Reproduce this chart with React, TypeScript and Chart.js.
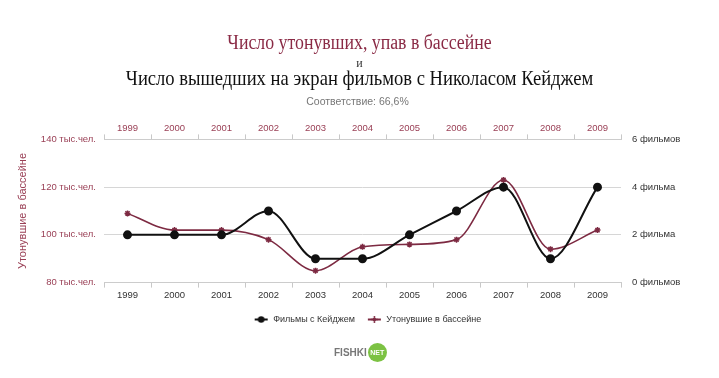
import React, { useEffect, useRef } from "react";
import { Chart, registerables } from "chart.js";

Chart.register(...registerables);

const years = ["1999", "2000", "2001", "2002", "2003", "2004", "2005", "2006", "2007", "2008", "2009"];
const cageFilms = [2, 2, 2, 3, 1, 1, 2, 3, 4, 1, 4];
const poolDrownings = [109, 102, 102, 98, 85, 95, 96, 98, 123, 94, 102];
const leftTickLabels: Record<number, string> = { 80: "80 тыс.чел.", 100: "100 тыс.чел.", 120: "120 тыс.чел.", 140: "140 тыс.чел." };
const rightTickLabels: Record<number, string> = { 0: "0 фильмов", 2: "2 фильма", 4: "4 фильма", 6: "6 фильмов" };
const seriesNames = ["Фильмы с Кейджем", "Утонувшие в бассейне"];

const MAROON = "#8a2a45";
const MAROON_TXT = "#9a4056";
const LINE_RED = "#7d2a42";

function legendIcon(color: string, style: "circle" | "star") {
  const c = document.createElement("canvas");
  c.width = 15;
  c.height = 9;
  const ctx = c.getContext("2d")!;
  ctx.strokeStyle = color;
  ctx.fillStyle = color;
  ctx.lineWidth = 2;
  ctx.beginPath();
  ctx.moveTo(1, 4.5);
  ctx.lineTo(14, 4.5);
  ctx.stroke();
  if (style === "circle") {
    ctx.beginPath();
    ctx.arc(7.5, 4.5, 3.3, 0, Math.PI * 2);
    ctx.fill();
  } else {
    ctx.lineWidth = 1.5;
    ctx.beginPath();
    ctx.moveTo(7.5, 1);
    ctx.lineTo(7.5, 8);
    ctx.moveTo(4, 4.5);
    ctx.lineTo(11, 4.5);
    ctx.stroke();
    ctx.beginPath();
    ctx.arc(7.5, 4.5, 1.8, 0, Math.PI * 2);
    ctx.fill();
  }
  return c;
}

export default function App() {
  const ref = useRef<HTMLCanvasElement>(null);

  useEffect(() => {
    document.body.style.margin = "0";
    const icons = [legendIcon("#111", "circle"), legendIcon(LINE_RED, "star")];
    const tickFont = { family: "'Liberation Sans', Arial, sans-serif", size: 9.5 };
    const chart = new Chart(ref.current!, {
      type: "line",
      data: {
        labels: years,
        datasets: [
          {
            label: seriesNames[0],
            data: cageFilms,
            yAxisID: "y1",
            xAxisID: "x",
            borderColor: "#111",
            backgroundColor: "#111",
            borderWidth: 2,
            pointRadius: 3.5,
            pointStyle: "circle",
            cubicInterpolationMode: "monotone",
            order: 1,
          },
          {
            label: seriesNames[1],
            data: poolDrownings,
            yAxisID: "y",
            xAxisID: "x",
            borderColor: LINE_RED,
            backgroundColor: LINE_RED,
            borderWidth: 1.6,
            pointRadius: 3,
            pointStyle: "star",
            pointBorderWidth: 1.5,
            cubicInterpolationMode: "monotone",
            order: 2,
          },
        ],
      },
      options: {
        animation: false,
        responsive: false,
        maintainAspectRatio: false,
        layout: { padding: { top: 123, left: 16, right: 0, bottom: 44 } },
        plugins: {
          tooltip: { enabled: false },
          title: { display: false },
          legend: {
            position: "bottom",
            labels: {
              usePointStyle: true,
              pointStyleWidth: 15,
              boxHeight: 9,
              padding: 12,
              color: "#333",
              font: { family: "'Liberation Sans', Arial, sans-serif", size: 9 },
              generateLabels: (ch: any) =>
                ch.data.datasets.map((ds: any, i: number) => ({
                  text: ds.label,
                  fillStyle: ds.borderColor,
                  strokeStyle: ds.borderColor,
                  lineWidth: 0,
                  pointStyle: icons[i],
                  hidden: false,
                  datasetIndex: i,
                  fontColor: "#333",
                })),
            },
          },
        },
        scales: {
          x: {
            type: "category",
            position: "bottom",
            offset: true,
            grid: { display: true, drawOnChartArea: false, drawTicks: true, tickLength: 5, color: "#c8c8c8", offset: true },
            border: { display: true, color: "#cccccc" },
            ticks: { color: "#333", font: tickFont, padding: 2 },
          },
          x2: {
            type: "category",
            position: "top",
            labels: years,
            offset: true,
            grid: { display: true, drawOnChartArea: false, drawTicks: true, tickLength: 5, color: "#c8c8c8", offset: true },
            border: { display: true, color: "#cccccc" },
            ticks: { color: MAROON_TXT, font: tickFont, padding: 0 },
          },
          y: {
            position: "left",
            min: 80,
            max: 140,
            grid: { color: "#d6d6d6", drawTicks: false },
            border: { display: false },
            ticks: {
              stepSize: 20,
              color: MAROON_TXT,
              font: tickFont,
              padding: 8,
              callback: (v: any) => leftTickLabels[v as number] ?? "",
            },
            title: {
              display: true,
              text: "Утонувшие в бассейне",
              color: MAROON_TXT,
              font: { family: "'Liberation Sans', Arial, sans-serif", size: 11 },
              padding: { top: 0, bottom: 8 },
            },
            afterFit: (s: any) => {
              s.width = 88;
            },
          },
          y1: {
            position: "right",
            min: 0,
            max: 6,
            grid: { drawOnChartArea: false, drawTicks: false },
            border: { display: false },
            ticks: {
              stepSize: 2,
              color: "#333",
              font: tickFont,
              padding: 11,
              callback: (v: any) => rightTickLabels[v as number] ?? "",
            },
            afterFit: (s: any) => {
              s.width = 98;
            },
          },
        },
      },
    });
    return () => chart.destroy();
  }, []);

  const serif = "'Liberation Serif', 'DejaVu Serif', serif";
  const titleBox = { position: "absolute" as const, left: 0, width: 719, textAlign: "center" as const };
  return (
    <div style={{ position: "relative", width: 719, height: 378, background: "#fff", overflow: "hidden" }}>
      <canvas ref={ref} width={719} height={378} style={{ position: "absolute", left: 0, top: 0 }} />
      <div style={{ ...titleBox, top: 30, fontFamily: serif, fontSize: 20, color: MAROON, lineHeight: "24px", transform: "scaleX(0.89)" }}>
        Число утонувших, упав в бассейне
      </div>
      <div style={{ ...titleBox, top: 56, fontFamily: serif, fontSize: 12, color: "#333", lineHeight: "14px" }}>
        и
      </div>
      <div style={{ ...titleBox, top: 65, fontFamily: serif, fontSize: 21, color: "#111", lineHeight: "26px", transform: "scaleX(0.885)" }}>
        Число вышедших на экран фильмов с Николасом Кейджем
      </div>
      <div style={{ ...titleBox, width: 715, top: 94, fontFamily: "'Liberation Sans', Arial, sans-serif", fontSize: 10.5, color: "#777", lineHeight: "14px" }}>
        Соответствие: 66,6%
      </div>
      <div style={{ position: "absolute", left: 334, top: 343, display: "flex", alignItems: "center", fontFamily: "'Liberation Sans', Arial, sans-serif", fontWeight: "bold" }}>
        <span style={{ fontSize: 10, color: "#777", letterSpacing: 0 }}>FISHKI</span>
        <span style={{ marginLeft: 1, width: 19, height: 19, borderRadius: "50%", background: "#7cc243", color: "#fff", fontSize: 7, display: "flex", alignItems: "center", justifyContent: "center" }}>NET</span>
      </div>
    </div>
  );
}
